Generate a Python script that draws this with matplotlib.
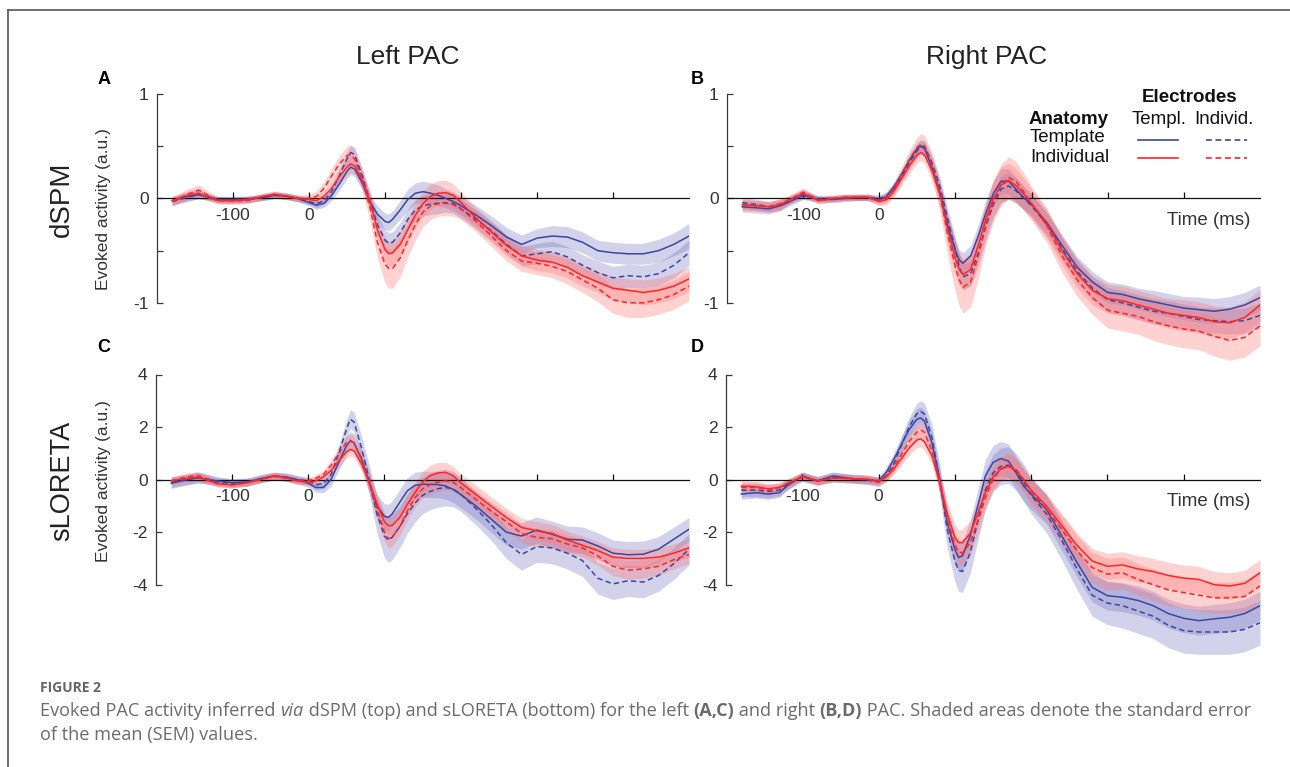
import matplotlib
matplotlib.use('Agg')
import matplotlib.pyplot as plt
from matplotlib.lines import Line2D

# time axis (ms)
t = [-180, -160, -145, -130, -120, -100, -80, -60, -45, -30, -15, 0, 10, 20, 30, 40, 50, 55, 60,
     70, 80, 90, 100, 105, 110, 120, 130, 140, 150, 160, 170, 180, 190, 200, 220, 240, 260, 280,
     300, 320, 340, 360, 380, 400, 420, 440, 460, 480, 500]

# tt = template anatomy / template electrodes, ti = template / individual,
# it = individual / template, ii = individual / individual

# A: dSPM, left PAC
a_tt = [-0.02, 0.02, 0.035, 0.01, -0.01, -0.01, -0.005, 0.01, 0.03, 0.025, 0.0, -0.04, -0.065, -0.045, 0.03, 0.14, 0.26, 0.3, 0.28,
        0.15, -0.03, -0.15, -0.22, -0.23, -0.2, -0.11, -0.01, 0.05, 0.065, 0.05, 0.03, 0.0, -0.03, -0.07, -0.16, -0.26, -0.37, -0.44,
        -0.38, -0.36, -0.37, -0.42, -0.5, -0.52, -0.53, -0.53, -0.5, -0.44, -0.36]
a_ti = [-0.03, 0.01, 0.04, 0.01, -0.01, -0.02, -0.01, 0.01, 0.03, 0.02, 0.0, -0.03, -0.05, -0.02, 0.07, 0.22, 0.38, 0.44, 0.42,
        0.22, -0.02, -0.25, -0.4, -0.43, -0.42, -0.33, -0.2, -0.11, -0.07, -0.055, -0.045, -0.04, -0.05, -0.1, -0.2, -0.31, -0.44, -0.55,
        -0.53, -0.51, -0.56, -0.64, -0.71, -0.76, -0.74, -0.75, -0.72, -0.64, -0.52]
a_it = [-0.02, 0.03, 0.05, 0.0, -0.02, -0.02, -0.01, 0.02, 0.04, 0.02, 0.0, -0.01, -0.02, 0.02, 0.1, 0.21, 0.3, 0.33, 0.31,
        0.18, -0.02, -0.3, -0.49, -0.53, -0.52, -0.44, -0.3, -0.16, -0.05, 0.02, 0.05, 0.055, 0.03, -0.04, -0.19, -0.32, -0.45, -0.55,
        -0.59, -0.61, -0.66, -0.74, -0.8, -0.86, -0.88, -0.9, -0.88, -0.84, -0.77]
a_ii = [-0.03, 0.04, 0.08, 0.02, -0.02, -0.025, -0.02, 0.02, 0.04, 0.02, 0.0, 0.0, 0.02, 0.1, 0.22, 0.33, 0.41, 0.42, 0.38,
        0.18, -0.08, -0.42, -0.63, -0.67, -0.67, -0.57, -0.4, -0.25, -0.13, -0.07, -0.05, -0.045, -0.06, -0.1, -0.22, -0.36, -0.5, -0.6,
        -0.62, -0.65, -0.7, -0.78, -0.86, -0.97, -1.0, -1.0, -0.97, -0.92, -0.84]
a_tt_sem = [0.04, 0.04, 0.04, 0.03, 0.03, 0.03, 0.03, 0.03, 0.03, 0.03, 0.03, 0.03, 0.04, 0.04, 0.05, 0.06, 0.07, 0.07, 0.07,
            0.07, 0.07, 0.08, 0.08, 0.08, 0.08, 0.09, 0.1, 0.1, 0.1, 0.1, 0.1, 0.09, 0.09, 0.09, 0.09, 0.09, 0.09, 0.09,
            0.09, 0.1, 0.1, 0.1, 0.1, 0.1, 0.1, 0.1, 0.11, 0.11, 0.12]
a_ti_sem = [0.04, 0.04, 0.04, 0.03, 0.03, 0.03, 0.03, 0.03, 0.03, 0.03, 0.03, 0.03, 0.04, 0.04, 0.05, 0.06, 0.07, 0.07, 0.07,
            0.07, 0.08, 0.09, 0.1, 0.1, 0.1, 0.1, 0.1, 0.1, 0.1, 0.1, 0.1, 0.09, 0.09, 0.09, 0.09, 0.09, 0.09, 0.09,
            0.1, 0.1, 0.1, 0.1, 0.11, 0.11, 0.11, 0.11, 0.11, 0.12, 0.12]
a_it_sem = [0.04, 0.04, 0.04, 0.03, 0.03, 0.03, 0.03, 0.03, 0.03, 0.03, 0.03, 0.03, 0.04, 0.05, 0.06, 0.07, 0.08, 0.08, 0.08,
            0.08, 0.09, 0.1, 0.12, 0.12, 0.12, 0.12, 0.12, 0.12, 0.12, 0.12, 0.12, 0.12, 0.11, 0.1, 0.1, 0.1, 0.1, 0.1,
            0.1, 0.1, 0.1, 0.1, 0.1, 0.11, 0.11, 0.12, 0.12, 0.12, 0.12]
a_ii_sem = [0.04, 0.05, 0.05, 0.04, 0.03, 0.03, 0.03, 0.03, 0.03, 0.03, 0.03, 0.04, 0.05, 0.06, 0.07, 0.08, 0.09, 0.09, 0.09,
            0.1, 0.12, 0.15, 0.18, 0.19, 0.19, 0.18, 0.16, 0.15, 0.14, 0.13, 0.12, 0.12, 0.11, 0.1, 0.1, 0.1, 0.1, 0.1,
            0.11, 0.11, 0.12, 0.12, 0.13, 0.13, 0.14, 0.14, 0.14, 0.14, 0.14]

# B: dSPM, right PAC
b_tt = [-0.08, -0.09, -0.1, -0.07, -0.04, 0.03, -0.01, -0.01, 0.0, 0.01, 0.01, -0.015, 0.02, 0.12, 0.24, 0.37, 0.48, 0.5, 0.47,
        0.28, 0.05, -0.26, -0.5, -0.59, -0.62, -0.55, -0.36, -0.14, 0.05, 0.165, 0.165, 0.085, 0.005, -0.06, -0.23, -0.45, -0.66, -0.8,
        -0.9, -0.92, -0.96, -0.99, -1.02, -1.05, -1.065, -1.08, -1.06, -1.02, -0.95]
b_ti = [-0.04, -0.06, -0.08, -0.06, -0.02, 0.04, 0.0, 0.0, 0.01, 0.01, 0.01, 0.0, 0.03, 0.1, 0.22, 0.35, 0.46, 0.5, 0.49,
        0.33, 0.1, -0.2, -0.5, -0.65, -0.75, -0.72, -0.52, -0.27, -0.05, 0.09, 0.12, 0.07, 0.0, -0.07, -0.25, -0.48, -0.7, -0.86,
        -0.97, -1.0, -1.04, -1.08, -1.1, -1.13, -1.16, -1.17, -1.18, -1.17, -1.12]
b_it = [-0.06, -0.07, -0.08, -0.06, -0.02, 0.05, -0.02, 0.0, 0.01, 0.01, 0.01, -0.03, -0.01, 0.08, 0.2, 0.32, 0.42, 0.44, 0.41,
        0.25, 0.03, -0.3, -0.58, -0.68, -0.73, -0.68, -0.45, -0.2, 0.0, 0.13, 0.17, 0.12, 0.04, -0.05, -0.24, -0.5, -0.72, -0.88,
        -0.96, -0.98, -1.02, -1.06, -1.1, -1.12, -1.14, -1.18, -1.19, -1.14, -1.02]
b_ii = [-0.06, -0.07, -0.08, -0.05, -0.02, 0.06, -0.02, 0.0, 0.01, 0.01, 0.01, -0.02, 0.01, 0.1, 0.24, 0.38, 0.49, 0.52, 0.5,
        0.3, 0.02, -0.35, -0.66, -0.78, -0.85, -0.8, -0.55, -0.25, -0.02, 0.13, 0.2, 0.16, 0.06, -0.05, -0.26, -0.55, -0.78, -0.95,
        -1.07, -1.1, -1.13, -1.18, -1.22, -1.25, -1.27, -1.32, -1.36, -1.33, -1.22]
b_tt_sem = [0.05, 0.05, 0.05, 0.05, 0.04, 0.04, 0.03, 0.03, 0.03, 0.03, 0.03, 0.03, 0.04, 0.05, 0.05, 0.06, 0.06, 0.06, 0.06,
            0.07, 0.08, 0.09, 0.1, 0.1, 0.1, 0.1, 0.11, 0.12, 0.12, 0.12, 0.12, 0.12, 0.11, 0.1, 0.1, 0.1, 0.1, 0.1,
            0.1, 0.1, 0.1, 0.11, 0.11, 0.11, 0.12, 0.12, 0.12, 0.12, 0.12]
b_ti_sem = [0.05, 0.05, 0.05, 0.05, 0.04, 0.04, 0.03, 0.03, 0.03, 0.03, 0.03, 0.03, 0.04, 0.05, 0.05, 0.06, 0.06, 0.06, 0.06,
            0.07, 0.08, 0.1, 0.12, 0.12, 0.12, 0.12, 0.13, 0.13, 0.13, 0.13, 0.13, 0.12, 0.11, 0.11, 0.11, 0.11, 0.11, 0.11,
            0.12, 0.12, 0.12, 0.12, 0.12, 0.12, 0.12, 0.12, 0.12, 0.12, 0.12]
b_it_sem = [0.05, 0.05, 0.05, 0.05, 0.04, 0.04, 0.03, 0.03, 0.03, 0.03, 0.03, 0.04, 0.05, 0.06, 0.07, 0.08, 0.08, 0.08, 0.08,
            0.1, 0.12, 0.14, 0.15, 0.15, 0.15, 0.15, 0.15, 0.16, 0.17, 0.17, 0.17, 0.16, 0.15, 0.14, 0.14, 0.14, 0.14, 0.14,
            0.14, 0.14, 0.14, 0.14, 0.14, 0.15, 0.15, 0.15, 0.15, 0.15, 0.15]
b_ii_sem = [0.05, 0.05, 0.05, 0.05, 0.04, 0.04, 0.03, 0.03, 0.03, 0.03, 0.03, 0.04, 0.05, 0.06, 0.07, 0.09, 0.1, 0.1, 0.1,
            0.12, 0.16, 0.2, 0.24, 0.25, 0.25, 0.24, 0.22, 0.2, 0.2, 0.2, 0.2, 0.19, 0.18, 0.16, 0.16, 0.16, 0.16, 0.16,
            0.17, 0.17, 0.17, 0.18, 0.18, 0.18, 0.18, 0.19, 0.19, 0.19, 0.19]

# C: sLORETA, left PAC
c_tt = [-0.14, -0.01, 0.07, 0.0, -0.05, -0.11, -0.09, 0.05, 0.13, 0.1, 0.0, -0.14, -0.3, -0.3, 0.01, 0.65, 1.28, 1.47, 1.4,
        0.77, -0.11, -1.0, -1.4, -1.44, -1.32, -0.87, -0.43, -0.22, -0.18, -0.18, -0.19, -0.24, -0.37, -0.56, -1.0, -1.5, -2.0, -2.15,
        -1.92, -2.08, -2.27, -2.3, -2.52, -2.8, -2.86, -2.84, -2.65, -2.27, -1.89]
c_ti = [-0.1, 0.0, 0.08, 0.0, -0.08, -0.15, -0.1, 0.05, 0.13, 0.1, 0.0, -0.05, -0.2, -0.15, 0.2, 1.0, 1.9, 2.3, 2.2,
        1.2, 0.0, -1.3, -2.15, -2.3, -2.2, -1.8, -1.3, -0.9, -0.6, -0.45, -0.35, -0.3, -0.35, -0.55, -1.1, -1.7, -2.4, -2.85,
        -2.55, -2.6, -2.8, -3.08, -3.75, -3.97, -3.85, -3.9, -3.65, -3.2, -2.65]
c_it = [-0.05, 0.05, 0.1, -0.05, -0.15, -0.2, -0.12, 0.02, 0.15, 0.08, -0.05, -0.1, -0.05, 0.1, 0.35, 0.7, 1.05, 1.15, 1.1,
        0.6, -0.1, -0.9, -1.6, -1.75, -1.75, -1.45, -0.95, -0.5, -0.1, 0.15, 0.25, 0.28, 0.15, -0.12, -0.56, -1.0, -1.44, -1.82,
        -1.95, -2.05, -2.3, -2.5, -2.7, -2.95, -3.0, -3.0, -2.95, -2.8, -2.6]
c_ii = [-0.05, 0.1, 0.15, 0.0, -0.15, -0.2, -0.12, 0.02, 0.12, 0.05, -0.05, -0.05, 0.05, 0.2, 0.55, 1.0, 1.4, 1.5, 1.4,
        0.8, -0.1, -1.1, -2.0, -2.25, -2.2, -1.8, -1.2, -0.7, -0.35, -0.2, -0.1, -0.05, -0.1, -0.3, -0.75, -1.2, -1.6, -2.05,
        -2.2, -2.25, -2.45, -2.6, -2.9, -3.3, -3.45, -3.4, -3.3, -3.05, -2.85]
c_tt_sem = [0.2, 0.2, 0.2, 0.18, 0.16, 0.15, 0.15, 0.15, 0.15, 0.15, 0.15, 0.15, 0.18, 0.2, 0.25, 0.3, 0.35, 0.35, 0.35,
            0.38, 0.42, 0.45, 0.48, 0.5, 0.5, 0.5, 0.5, 0.5, 0.5, 0.5, 0.5, 0.5, 0.5, 0.5, 0.5, 0.5, 0.5, 0.5,
            0.5, 0.5, 0.5, 0.5, 0.5, 0.5, 0.5, 0.5, 0.48, 0.46, 0.45]
c_ti_sem = [0.2, 0.2, 0.2, 0.18, 0.16, 0.15, 0.15, 0.15, 0.15, 0.15, 0.15, 0.15, 0.18, 0.2, 0.25, 0.3, 0.35, 0.35, 0.38,
            0.45, 0.55, 0.7, 0.82, 0.85, 0.85, 0.8, 0.75, 0.72, 0.7, 0.7, 0.7, 0.7, 0.68, 0.65, 0.62, 0.6, 0.6, 0.6,
            0.6, 0.6, 0.6, 0.6, 0.6, 0.6, 0.6, 0.6, 0.6, 0.6, 0.6]
c_it_sem = [0.15, 0.15, 0.15, 0.13, 0.12, 0.12, 0.12, 0.12, 0.12, 0.12, 0.12, 0.12, 0.14, 0.16, 0.2, 0.22, 0.25, 0.25, 0.25,
            0.27, 0.3, 0.33, 0.35, 0.35, 0.35, 0.36, 0.38, 0.4, 0.4, 0.4, 0.4, 0.38, 0.36, 0.35, 0.35, 0.35, 0.35, 0.35,
            0.35, 0.35, 0.35, 0.35, 0.35, 0.35, 0.35, 0.35, 0.35, 0.35, 0.35]
c_ii_sem = [0.15, 0.15, 0.15, 0.13, 0.12, 0.12, 0.12, 0.12, 0.12, 0.12, 0.12, 0.12, 0.14, 0.16, 0.2, 0.22, 0.25, 0.25, 0.25,
            0.27, 0.3, 0.33, 0.35, 0.35, 0.35, 0.35, 0.35, 0.35, 0.35, 0.35, 0.35, 0.35, 0.35, 0.35, 0.35, 0.35, 0.35, 0.35,
            0.35, 0.35, 0.35, 0.35, 0.35, 0.35, 0.35, 0.35, 0.35, 0.35, 0.35]

# D: sLORETA, right PAC
d_tt = [-0.55, -0.5, -0.55, -0.5, -0.24, 0.14, -0.05, 0.14, 0.08, 0.02, -0.01, -0.05, 0.27, 0.77, 1.34, 1.9, 2.29, 2.35, 2.23,
        1.4, 0.01, -1.63, -2.65, -2.97, -2.9, -2.14, -1.0, 0.14, 0.65, 0.8, 0.71, 0.27, -0.24, -0.56, -1.13, -2.14, -3.15, -4.1,
        -4.42, -4.48, -4.6, -4.8, -5.1, -5.28, -5.37, -5.3, -5.24, -5.1, -4.8]
d_ti = [-0.4, -0.4, -0.45, -0.4, -0.2, 0.1, -0.05, 0.1, 0.05, 0.02, -0.01, -0.1, 0.15, 0.6, 1.3, 2.0, 2.5, 2.6, 2.5,
        1.6, 0.0, -1.9, -3.1, -3.45, -3.5, -2.8, -1.6, -0.4, 0.25, 0.5, 0.55, 0.3, -0.1, -0.6, -1.3, -2.3, -3.4, -4.4,
        -4.7, -4.8, -5.0, -5.2, -5.55, -5.75, -5.8, -5.8, -5.8, -5.7, -5.45]
d_it = [-0.25, -0.27, -0.35, -0.3, -0.15, 0.1, -0.05, 0.05, 0.05, 0.03, 0.02, -0.08, 0.1, 0.4, 0.8, 1.2, 1.5, 1.55, 1.45,
        0.9, -0.1, -1.3, -2.2, -2.4, -2.4, -2.05, -1.3, -0.5, 0.1, 0.4, 0.5, 0.35, 0.0, -0.4, -1.0, -1.75, -2.5, -3.1,
        -3.3, -3.25, -3.4, -3.5, -3.65, -3.75, -3.8, -4.0, -4.05, -3.95, -3.55]
d_ii = [-0.3, -0.3, -0.4, -0.3, -0.15, 0.12, -0.05, 0.05, 0.05, 0.03, 0.02, -0.05, 0.12, 0.5, 0.95, 1.45, 1.8, 1.9, 1.8,
        1.1, -0.05, -1.5, -2.5, -2.75, -2.8, -2.4, -1.6, -0.7, 0.0, 0.4, 0.55, 0.4, 0.0, -0.45, -1.1, -1.9, -2.7, -3.35,
        -3.6, -3.55, -3.8, -4.0, -4.2, -4.3, -4.4, -4.5, -4.5, -4.45, -4.05]
d_tt_sem = [0.2, 0.2, 0.2, 0.18, 0.16, 0.15, 0.15, 0.15, 0.15, 0.15, 0.15, 0.15, 0.2, 0.25, 0.3, 0.35, 0.4, 0.4, 0.4,
            0.42, 0.45, 0.5, 0.55, 0.55, 0.55, 0.58, 0.6, 0.62, 0.65, 0.65, 0.65, 0.62, 0.6, 0.58, 0.55, 0.55, 0.55, 0.55,
            0.55, 0.55, 0.55, 0.55, 0.55, 0.55, 0.55, 0.55, 0.55, 0.55, 0.55]
d_ti_sem = [0.25, 0.25, 0.25, 0.22, 0.2, 0.18, 0.18, 0.18, 0.18, 0.18, 0.18, 0.18, 0.22, 0.28, 0.32, 0.36, 0.4, 0.4, 0.42,
            0.5, 0.6, 0.7, 0.78, 0.8, 0.8, 0.78, 0.75, 0.72, 0.7, 0.7, 0.7, 0.7, 0.7, 0.7, 0.72, 0.75, 0.78, 0.8,
            0.82, 0.85, 0.85, 0.85, 0.85, 0.85, 0.85, 0.85, 0.85, 0.85, 0.85]
d_it_sem = [0.2, 0.2, 0.2, 0.18, 0.16, 0.15, 0.15, 0.15, 0.15, 0.15, 0.15, 0.15, 0.18, 0.22, 0.25, 0.28, 0.3, 0.3, 0.3,
            0.33, 0.38, 0.45, 0.5, 0.5, 0.5, 0.5, 0.48, 0.46, 0.45, 0.45, 0.45, 0.45, 0.45, 0.45, 0.45, 0.45, 0.47, 0.48,
            0.5, 0.5, 0.5, 0.5, 0.5, 0.5, 0.5, 0.5, 0.5, 0.5, 0.5]
d_ii_sem = [0.2, 0.2, 0.2, 0.18, 0.16, 0.15, 0.15, 0.15, 0.15, 0.15, 0.15, 0.15, 0.18, 0.22, 0.25, 0.28, 0.3, 0.3, 0.3,
            0.33, 0.38, 0.45, 0.5, 0.5, 0.5, 0.5, 0.48, 0.46, 0.45, 0.45, 0.45, 0.45, 0.47, 0.5, 0.52, 0.55, 0.57, 0.58,
            0.6, 0.6, 0.6, 0.6, 0.6, 0.6, 0.6, 0.6, 0.6, 0.6, 0.6]

xticks = [-100, 0, 100, 200, 300, 400]
xticklabels = ['-100', '0', '', '', '', '']
dspm_yticks = [-1, -0.5, 0, 0.5, 1]
dspm_yticklabels = ['-1', '', '0', '', '1']
slor_yticks = [-4, -2, 0, 2, 4]
slor_yticklabels = ['-4', '-2', '0', '2', '4']

BLUE = '#3b46a2'
RED = '#ff2525'
BLUE_FILL = (0.45, 0.45, 0.76)
RED_FILL = (1.0, 0.45, 0.45)
DASH = (0, (3.5, 2.2))
FONT = 'Liberation Sans'
W, H = 1290, 767

fig = plt.figure(figsize=(W / 100, H / 100), dpi=100)
fig.patch.set_facecolor('white')


def px_axes(left, top, width, height):
    return fig.add_axes([left / W, 1 - (top + height) / H, width / W, height / H])


panels = [
    # rect in pixels, ylim, spine bounds, ticks, labels, series, right column?
    ((157, 94, 532, 282), (-1.7, 1.0), (-1, 1), dspm_yticks, dspm_yticklabels,
     (a_tt, a_ti, a_it, a_ii), (a_tt_sem, a_ti_sem, a_it_sem, a_ii_sem), False),
    ((727, 94, 533, 282), (-1.7, 1.0), (-1, 1), dspm_yticks, dspm_yticklabels,
     (b_tt, b_ti, b_it, b_ii), (b_tt_sem, b_ti_sem, b_it_sem, b_ii_sem), True),
    ((156, 374.5, 533, 289), (-7, 4), (-4, 4), slor_yticks, slor_yticklabels,
     (c_tt, c_ti, c_it, c_ii), (c_tt_sem, c_ti_sem, c_it_sem, c_ii_sem), False),
    ((726, 374.5, 534, 289), (-7, 4), (-4, 4), slor_yticks, slor_yticklabels,
     (d_tt, d_ti, d_it, d_ii), (d_tt_sem, d_ti_sem, d_it_sem, d_ii_sem), True),
]

for rect, ylim, bounds, yt, ytl, series, sems, right in panels:
    ax = px_axes(*rect)
    ax.set_facecolor('none')
    styles = [(BLUE, BLUE_FILL, '-'), (BLUE, BLUE_FILL, DASH), (RED, RED_FILL, '-'), (RED, RED_FILL, DASH)]
    for y, s, (c, fc, ls) in zip(series, sems, styles):
        lo = [v - e for v, e in zip(y, s)]
        hi = [v + e for v, e in zip(y, s)]
        ax.fill_between(t, lo, hi, color=fc, alpha=0.32, lw=0, zorder=1)
    for y, (c, fc, ls) in zip(series, styles):
        ax.plot(t, y, color=c, ls=ls, lw=1.1, zorder=3)

    ax.set_xlim(-200, 500)
    ax.set_ylim(*ylim)
    ax.spines['top'].set_visible(False)
    ax.spines['right'].set_visible(False)
    ax.spines['left'].set_bounds(*bounds)
    ax.spines['left'].set_color('#3a3a3a')
    ax.spines['left'].set_linewidth(0.9)
    ax.spines['bottom'].set_position(('data', 0))
    ax.spines['bottom'].set_color('#111111')
    ax.spines['bottom'].set_linewidth(0.9)
    ax.spines['bottom'].set_zorder(2)
    ax.set_xticks(xticks)
    ax.set_xticklabels(xticklabels)
    ax.set_yticks(yt)
    ax.set_yticklabels(ytl)
    ax.tick_params(axis='x', direction='in', length=4, width=0.9, pad=7,
                   labelsize=12.5, labelcolor='#333333', color='#111111')
    ax.tick_params(axis='y', direction='in', length=4, width=0.9, pad=6,
                   labelsize=12.5, labelcolor='#333333', color='#3a3a3a')
    for lab in ax.get_xticklabels() + ax.get_yticklabels():
        lab.set_fontfamily(FONT)
    if right:
        ax.annotate('Time (ms)', xy=(1, 0), xycoords=('axes fraction', 'data'),
                    xytext=(-10, -22), textcoords='offset pixels', ha='right', va='center',
                    fontsize=13.5, color='#333333', family=FONT)

# column and row titles
fig.text(408 / W, 1 - 57 / H, 'Left PAC', ha='center', va='center', fontsize=19, color='#222222', family=FONT)
fig.text(987 / W, 1 - 57 / H, 'Right PAC', ha='center', va='center', fontsize=19, color='#222222', family=FONT)
fig.text(62 / W, 1 - 199 / H, 'dSPM', ha='center', va='center', rotation=90, fontsize=20, color='#222222', family=FONT)
fig.text(62 / W, 1 - 481 / H, 'sLORETA', ha='center', va='center', rotation=90, fontsize=19.5, color='#222222', family=FONT)
for lab, x, y in [('A', 104, 80), ('B', 697, 80), ('C', 104, 347), ('D', 697, 347)]:
    fig.text(x / W, 1 - y / H, lab, ha='center', va='center', fontsize=13, fontweight='bold', family=FONT)
for y in [209, 481]:
    fig.text(103 / W, 1 - y / H, 'Evoked activity (a.u.)', ha='center', va='center', rotation=90,
             fontsize=12.5, color='#333333', family=FONT)

# legend table
lg = dict(va='center', fontsize=13.5, color='#111111', family=FONT)
fig.text(1190 / W, 1 - 98 / H, 'Electrodes', ha='center', fontweight='bold', **lg)
fig.text(1029 / W, 1 - 119 / H, 'Anatomy', ha='left', fontweight='bold', **lg)
fig.text(1159 / W, 1 - 119 / H, 'Templ.', ha='center', **lg)
fig.text(1224 / W, 1 - 119 / H, 'Individ.', ha='center', **lg)
fig.text(1030 / W, 1 - 138 / H, 'Template', ha='left', **lg)
fig.text(1030 / W, 1 - 158 / H, 'Individual', ha='left', **lg)
for y, c in [(140, BLUE), (158, RED)]:
    fig.add_artist(Line2D([1138 / W, 1178 / W], [1 - y / H, 1 - y / H], color=c, lw=1.2))
    fig.add_artist(Line2D([1206 / W, 1247 / W], [1 - y / H, 1 - y / H], color=c, lw=1.2, ls=DASH))

# frame
fig.add_artist(Line2D([8 / W, 1], [1 - 10 / H, 1 - 10 / H], color='#555555', lw=1.2))
fig.add_artist(Line2D([8 / W, 8 / W], [0, 1 - 10 / H], color='#555555', lw=1.2))

# caption
cap = dict(va='center', fontsize=13.1, color='#6b6b6b', family='Open Sans')
fig.text(40 / W, 1 - 688 / H, 'FIGURE 2', ha='left', va='center', fontsize=10, fontweight='bold',
         color='#666666', family='Open Sans')
renderer = fig.canvas.get_renderer()
parts = [('Evoked PAC activity inferred ', {}), ('via', {'style': 'italic'}),
         (' dSPM (top) and sLORETA (bottom) for the left ', {}), ('(A,C)', {'fontweight': 'bold'}),
         (' and right ', {}), ('(B,D)', {'fontweight': 'bold'}),
         (' PAC. Shaded areas denote the standard error', {})]
x = 40 / W
for s, extra in parts:
    txt = fig.text(x, 1 - 711 / H, s, ha='left', **cap, **extra)
    x += txt.get_window_extent(renderer=renderer).width / W
fig.text(40 / W, 1 - 735 / H, 'of the mean (SEM) values.', ha='left', **cap)

fig.savefig('out.png', dpi=100)
